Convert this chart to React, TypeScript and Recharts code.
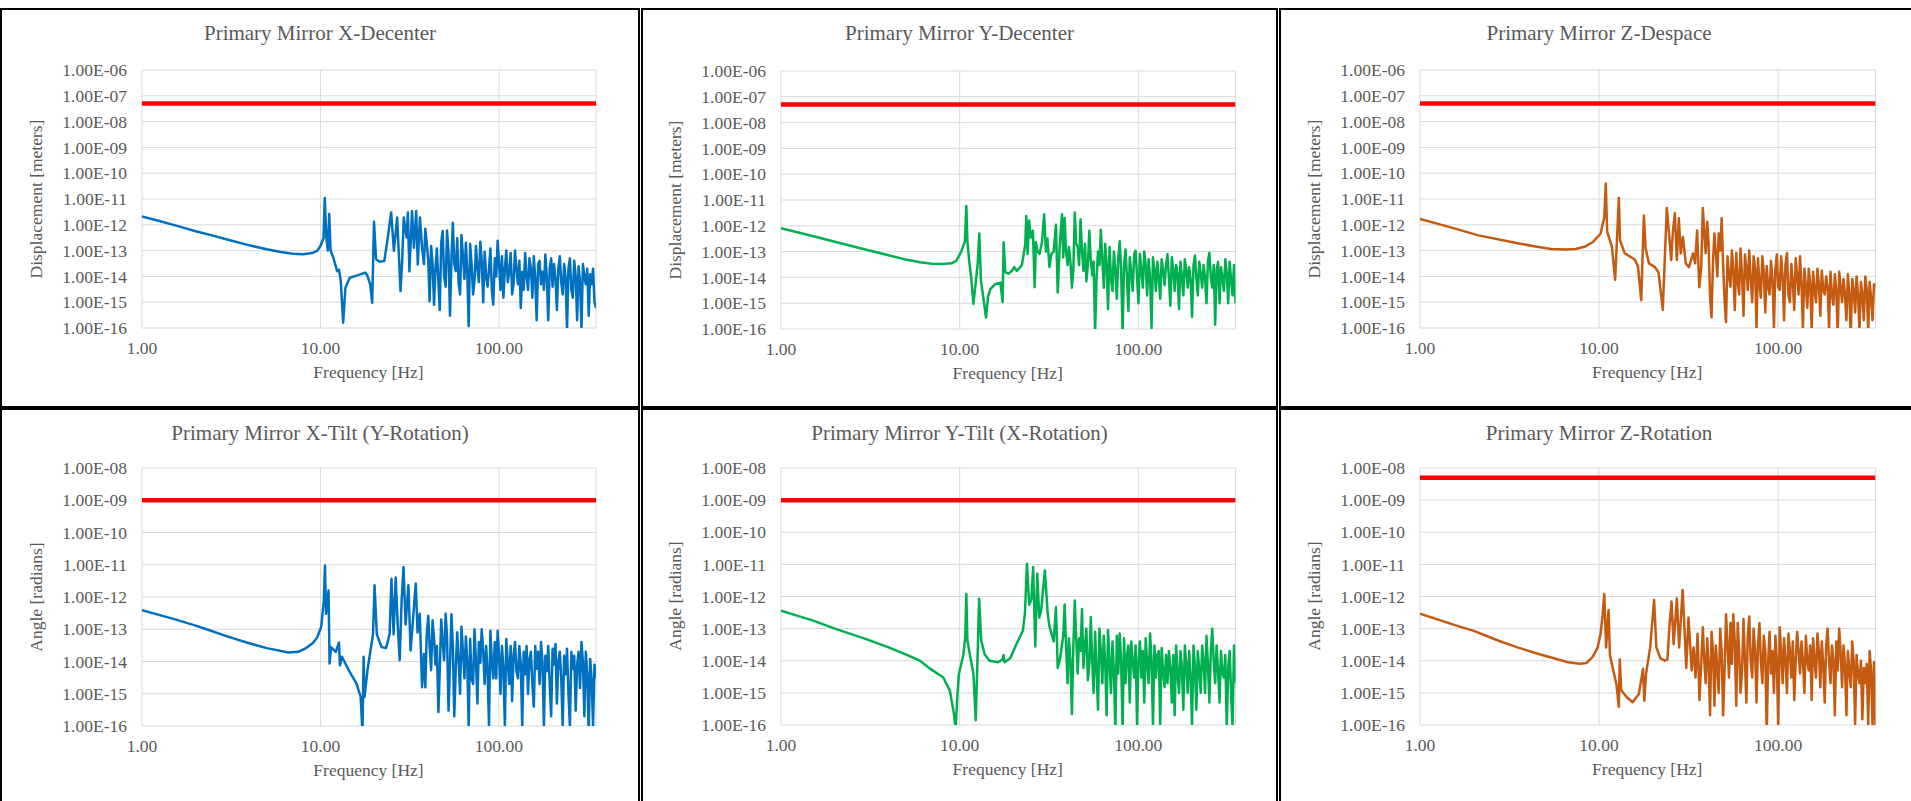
import React from "react";
import { LineChart, Line, XAxis, YAxis, CartesianGrid } from "recharts";

// axes
const FREQ_TICKS = [1, 10, 100];
const DISP_TICKS = [1e-16, 1e-15, 1e-14, 1e-13, 1e-12, 1e-11, 1e-10, 1e-9, 1e-8, 1e-7, 1e-6];
const ANGLE_TICKS = [1e-16, 1e-15, 1e-14, 1e-13, 1e-12, 1e-11, 1e-10, 1e-9, 1e-8];

// shared frequency grid of the noisy upper band (Hz)
const NOISE_F = [
  38, 38.7, 39.4, 40.2, 40.9, 41.7, 42.5, 43.3, 44.1, 44.9,
  45.8, 46.6, 47.5, 48.4, 49.3, 50.3, 51.2, 52.2, 53.2, 54.2,
  55.2, 56.2, 57.3, 58.4, 59.5, 60.6, 61.7, 62.9, 64.1, 65.3,
  66.5, 67.7, 69, 70.3, 71.7, 73, 74.4, 75.8, 77.2, 78.7,
  80.1, 81.7, 83.2, 84.8, 86.4, 88, 89.6, 91.3, 93, 94.8,
  96.6, 98.4, 100.2, 102.1, 104, 106, 108, 110, 112.1, 114.2,
  116.4, 118.6, 120.8, 123.1, 125.4, 127.8, 130.2, 132.6, 135.1, 137.6,
  140.3, 142.9, 145.6, 148.3, 151.1, 154, 156.9, 159.8, 162.8, 165.9,
  169, 172.2, 175.4, 178.7, 182.1, 185.5, 189, 192.6, 196.2, 199.9,
  203.7, 207.5, 211.3, 215.3, 219.4, 223.5, 227.7, 232, 236.3, 240.8,
  245.3, 249.9, 254.7, 259.4, 264.3, 269.3, 274.4, 279.5, 284.8, 290.2,
  295.6, 301.2, 306.9, 312.7, 318.6, 324.6, 330.7, 336.9, 343.3, 350,
];

// X-Decenter
const XDEC_F = [
  1, 1.25, 1.5, 2, 2.5, 3, 4, 5, 6, 7, 8, 9,
  9.6, 10, 10.4, 10.57, 10.8, 11, 11.2, 11.4, 11.8, 12.4,
  12.7, 13, 13.4, 13.8, 14.6, 16.1, 17.8, 18.3, 19, 19.5,
  19.95, 20.5, 21.5, 22.8, 23.7, 24.9, 25.8, 26.9, 28.1, 28.7,
  29.3, 30.4, 30.9, 31.5, 32.6, 33.4, 34.4, 35.1, 36.1, 37.1,
];
const XDEC_V = [
  2.1e-12, 1.4e-12, 9.9e-13, 5.6e-13, 3.8e-13, 2.7e-13, 1.6e-13, 1.12e-13, 8.8e-14, 7.6e-14, 7.2e-14, 8e-14,
  1e-13, 1.5e-13, 3e-13, 1.1e-11, 3e-13, 1e-13, 2.6e-12, 1e-13, 5.4e-14, 1.6e-14,
  1.8e-14, 6.6e-15, 1.6e-16, 3.6e-15, 8.9e-15, 1.1e-14, 1.4e-14, 1.1e-14, 4.9e-15, 9.5e-16,
  1.3e-12, 4.6e-14, 3.7e-14, 4e-14, 2.4e-13, 3e-12, 9.7e-14, 1.9e-12, 2.7e-15, 4e-14,
  1.9e-12, 3.2e-13, 3e-12, 1.6e-14, 3.4e-12, 1.3e-13, 3.4e-12, 2.9e-14, 1.9e-12, 1.3e-13,
];
const XDEC_NOISE = [
  3e-14, 7e-13, 2e-13, 4e-14, 1.1e-15, 1.5e-13, 3e-14, 8e-16, 2e-14, 1.2e-13,
  6e-15, 5e-16, 2e-13, 5.8e-13, 1e-14, 4e-15, 6e-13, 8e-14, 3e-16, 5e-14,
  1.2e-12, 3e-14, 1.6e-14, 3e-13, 5e-15, 2e-15, 4e-13, 6e-14, 8e-15, 2e-13,
  1.5e-14, 1.2e-16, 1.8e-13, 3e-14, 2e-15, 7e-15, 1.5e-13, 2e-14, 6e-15, 2.2e-13,
  4e-14, 1e-15, 9e-14, 1e-14, 4e-15, 2e-14, 1.2e-13, 3e-15, 8e-16, 5e-14,
  1e-14, 2.4e-13, 3e-14, 3e-15, 6e-14, 1.5e-15, 2e-14, 1e-13, 6e-15, 1.5e-14,
  8e-14, 2e-15, 5e-15, 1e-13, 2e-14, 5e-15, 4e-14, 6e-16, 1.5e-14, 3e-15,
  8e-14, 1e-14, 3e-15, 5e-14, 2e-14, 1.5e-15, 6e-14, 8e-15, 2e-16, 3e-14,
  4e-14, 5e-15, 1.5e-14, 3e-15, 7e-14, 1e-14, 2e-16, 2e-14, 5e-14, 4e-15,
  3e-14, 8e-15, 5e-16, 2e-14, 6e-14, 6e-15, 2e-15, 3e-14, 1e-14, 8e-17,
  2e-14, 5e-14, 3e-15, 1.5e-15, 4e-14, 1e-14, 2e-16, 2.5e-14, 6e-15, 1e-16,
  3e-14, 1e-14, 5e-15, 2e-14, 3e-16, 1.2e-14, 5e-15, 2e-14, 1e-15, 6e-16,
];

// Y-Decenter
const YDEC_F = [
  1, 1.5, 2, 3, 4, 5, 6, 7, 8, 9,
  9.6, 10.2, 10.7, 10.9, 11.05, 11.3, 11.6, 11.94, 12.6, 12.88,
  13.16, 14.05, 14.4, 14.85, 15.83, 16.9, 17.4, 17.63, 18, 18.8,
  19.6, 20.2, 20.9, 22.3, 23.3, 23.6, 24, 24.5, 25, 25.7,
  26.3, 26.7, 27.3, 28, 28.9, 29.7, 30.4, 31, 31.8, 32.6,
  33.6, 34.6, 35.4, 36.3, 37.4,
];
const YDEC_V = [
  8.1e-13, 4e-13, 2.4e-13, 1.18e-13, 7.2e-14, 4.9e-14, 3.9e-14, 3.4e-14, 3.3e-14, 3.5e-14,
  4.5e-14, 1e-13, 2.5e-13, 5.9e-12, 2.6e-13, 4.5e-14, 1e-14, 9.4e-16, 3e-14, 5e-13,
  7.5e-15, 2.8e-16, 1.7e-15, 3.5e-15, 5.5e-15, 6.3e-15, 1.1e-15, 2.3e-13, 1.6e-14, 1.4e-14,
  1.8e-14, 2.5e-14, 1.8e-14, 3e-14, 1.9e-13, 2.4e-12, 8e-14, 1.6e-12, 3.5e-13, 6.4e-13,
  4.2e-15, 2.3e-13, 1e-13, 8e-14, 2.3e-13, 2.8e-12, 1e-13, 3.2e-13, 2.5e-14, 8e-14,
  1e-13, 1.1e-12, 2.6e-15, 1.6e-13, 2.8e-12,
];
const YDEC_NOISE = [
  6e-14, 2e-12, 1e-13, 3e-14, 1.5e-13, 4e-14, 4e-15, 2e-14, 3.3e-12, 2e-13,
  1.5e-13, 3e-14, 1.8e-12, 1e-13, 1.8e-14, 2e-13, 7e-15, 3e-14, 6.4e-13, 5e-14,
  1.2e-14, 4e-14, 7e-17, 1e-14, 1e-13, 3e-14, 7e-13, 5e-14, 4e-15, 2e-13,
  3e-14, 6e-16, 1.5e-13, 1e-14, 3e-15, 1e-13, 2e-14, 1.5e-15, 5e-14, 2.5e-13,
  2e-14, 8e-17, 3e-14, 1.2e-13, 1e-14, 5e-16, 6e-14, 1.5e-14, 3e-15, 8e-14,
  1.1e-13, 1e-14, 1e-15, 8e-14, 2e-14, 4e-15, 1e-13, 3e-14, 2e-15, 5e-14,
  1e-14, 1e-16, 6e-14, 2e-14, 3e-15, 4e-14, 1e-14, 1.5e-15, 5e-14, 2e-14,
  5e-15, 3e-14, 8e-14, 1e-14, 8e-16, 6e-14, 2e-14, 3e-15, 3e-14, 1.5e-14,
  6e-16, 4e-14, 1e-14, 2e-15, 5e-14, 2e-14, 4e-15, 2.5e-14, 8e-15, 3e-16,
  3e-14, 7e-14, 1e-14, 2e-15, 4e-14, 1.5e-14, 4e-15, 3e-14, 1e-14, 1e-15,
  4e-14, 9e-14, 1e-14, 4e-15, 3e-14, 1.5e-16, 2e-14, 4e-14, 1e-15, 2.5e-14,
  1e-14, 3e-15, 5e-14, 1.5e-14, 1e-15, 4e-14, 8e-15, 2e-15, 3e-14, 1e-15,
];

// Z-Despace
const ZDES_F = [
  1, 1.5, 2.12, 3, 3.57, 4.5, 5.4, 6.5, 7.4, 8.3,
  9.2, 10.2, 10.7, 10.9, 11.1, 11.8, 12.3, 12.9, 13.1, 13.9,
  15.8, 16.5, 17.2, 17.8, 18.2, 19, 20.5, 21.5, 22.7, 23.9,
  24.6, 25.3, 25.8, 26.5, 27.2, 27.9, 28.6, 29.4, 30.5, 31.8,
  33.5, 34.4, 35.3, 36.3, 37.2,
];
const ZDES_V = [
  1.7e-12, 7.8e-13, 3.9e-13, 2.4e-13, 1.9e-13, 1.4e-13, 1.15e-13, 1.1e-13, 1.15e-13, 1.4e-13,
  2.1e-13, 4.5e-13, 2e-12, 4e-11, 5.5e-13, 1.4e-13, 7.3e-15, 1.1e-11, 2.5e-13, 8e-14,
  4.5e-14, 2.5e-14, 1.2e-15, 2.3e-12, 1.2e-13, 3.2e-14, 2.3e-14, 1.4e-14, 5e-16, 4.5e-12,
  4.6e-13, 4.3e-14, 4.6e-13, 2.8e-12, 4.3e-14, 1.8e-12, 7.8e-14, 3.4e-13, 3.2e-14, 2.3e-14,
  7.8e-14, 3.2e-14, 6e-13, 3.8e-15, 2.3e-14,
];
const ZDES_NOISE = [
  4.5e-12, 5e-13, 8e-14, 1.3e-12, 2e-13, 1.6e-15, 2.6e-16, 4e-14, 4.6e-13, 7.8e-14,
  1e-14, 4.6e-13, 1e-13, 1.8e-12, 3e-14, 1e-15, 1.7e-16, 6e-14, 1e-14, 4e-15,
  1e-13, 2e-14, 5e-16, 8e-14, 6e-15, 2e-15, 1.2e-13, 1e-14, 3e-16, 7e-14,
  2e-14, 3e-15, 1e-13, 8e-15, 1e-15, 6e-14, 2e-14, 1e-16, 5e-14, 5e-15,
  1.5e-15, 6e-14, 1.5e-14, 4e-16, 2.5e-14, 4e-15, 2e-15, 4e-14, 8e-15, 1e-16,
  2e-14, 7e-14, 4e-15, 3e-15, 6e-14, 1e-14, 2e-16, 3e-14, 8e-14, 2e-15,
  1e-15, 3e-14, 6e-15, 5e-16, 5e-14, 1e-14, 2e-15, 6e-14, 5e-15, 1e-16,
  2e-14, 4e-15, 6e-16, 2e-14, 6e-15, 8e-17, 1.5e-14, 3e-15, 1e-15, 2e-14,
  5e-15, 3e-16, 1.7e-14, 3e-15, 2e-15, 1e-14, 4e-15, 1e-16, 1.5e-14, 2e-15,
  8e-16, 1.2e-14, 3e-15, 6e-17, 1.5e-14, 4e-15, 1e-15, 8e-15, 2e-15, 2e-16,
  1.2e-14, 2e-15, 5e-17, 8e-15, 3e-15, 4e-16, 1e-14, 2e-15, 8e-17, 6e-15,
  2e-15, 2e-16, 1e-14, 3e-15, 8e-17, 6e-15, 1.5e-15, 2e-16, 5e-15, 4e-15,
];

// X-Tilt (Y-Rotation)
const XTILT_F = [
  1, 1.5, 2, 2.3, 3, 3.9, 5, 6.6, 7.5, 8.2,
  9.1, 9.6, 10.1, 10.45, 10.6, 10.75, 11.1, 11.25, 11.45, 12.2,
  12.7, 12.85, 13.2, 14.4, 15.9, 16.8, 17.2, 17.45, 17.65, 18.4,
  19.7, 20.1, 20.7, 22, 23.3, 24.4, 25, 25.7, 26.4, 27.1,
  27.8, 28.5, 29.2, 30, 31.1, 32, 33, 34.2, 35, 36, 37.1,
];
const XTILT_V = [
  3.9e-13, 2.1e-13, 1.3e-13, 1e-13, 6e-14, 3.8e-14, 2.6e-14, 1.9e-14, 2e-14, 2.5e-14,
  3.8e-14, 5.7e-14, 1.2e-13, 7.8e-13, 9.5e-12, 3e-13, 1.6e-12, 8.7e-15, 2.8e-14, 2e-14,
  3.9e-14, 7.6e-15, 1.4e-14, 5.4e-15, 2.1e-15, 8e-16, 6e-17, 1.4e-14, 8e-16, 6e-15,
  7e-14, 2.3e-12, 7e-14, 2.8e-14, 2.6e-14, 7e-14, 3.7e-12, 7e-14, 4e-12, 1.4e-13,
  1.1e-14, 7.8e-13, 8.5e-12, 1.4e-13, 2.3e-12, 2.2e-14, 2e-13, 2.6e-12, 8e-14, 3e-13, 1.6e-15,
];
const XTILT_NOISE = [
  1.7e-14, 1.6e-15, 7e-14, 2.6e-13, 3e-14, 5.4e-15, 1.9e-13, 5e-14, 8e-15, 3e-14,
  2.7e-16, 5e-15, 2e-13, 4e-14, 1.1e-14, 3e-13, 6e-14, 3e-16, 8e-15, 2.9e-13,
  3e-14, 2e-16, 6e-15, 8e-14, 1e-14, 1e-15, 1.2e-13, 2e-14, 3e-15, 6e-14,
  1e-14, 1e-16, 5e-14, 3e-15, 2e-15, 1e-13, 1e-14, 5e-16, 4e-14, 9e-15,
  1e-13, 2e-14, 2e-15, 3e-14, 5e-15, 1e-16, 9e-14, 1e-14, 3e-15, 4e-14,
  3e-15, 9e-14, 1.5e-14, 1e-15, 3e-14, 6e-15, 1e-16, 5e-14, 1e-14, 2e-15,
  3e-14, 6e-16, 1.5e-14, 4e-14, 5e-15, 3e-15, 3e-14, 8e-15, 1e-16, 2e-14,
  4e-15, 3e-14, 1e-15, 1.2e-14, 2e-14, 2e-15, 4e-16, 3e-14, 6e-15, 2e-14,
  2e-15, 4e-14, 1e-14, 1e-16, 1.5e-14, 5e-15, 3e-14, 2e-15, 2e-16, 2.5e-14,
  8e-15, 3.5e-14, 5e-16, 1e-14, 2e-14, 3e-15, 1e-16, 1.5e-14, 4e-15, 2.5e-14,
  1e-15, 1e-16, 2e-14, 6e-15, 1.5e-14, 3e-16, 8e-15, 2e-14, 1.5e-15, 4e-14,
  1e-14, 2e-16, 2e-14, 4e-15, 6e-17, 1.2e-14, 3e-15, 1e-16, 8e-15, 3e-15,
];

// Y-Tilt (X-Rotation)
const YTILT_F = [
  1, 1.5, 2, 3, 4, 5.1, 6, 6.7, 8.1, 8.8,
  9.3, 9.5, 9.7, 9.9, 10.5, 10.75, 10.9, 11.05, 11.4, 11.95,
  12.3, 12.5, 12.7, 12.85, 13.2, 13.8, 14.7, 16.4, 17.4, 17.6,
  17.8, 19.2, 20.8, 22.6, 23.2, 23.8, 24.5, 25.2, 25.8, 26.5,
  27.2, 27.9, 28.6, 30, 31.1, 31.8, 33.6, 34.6, 35.4, 36.5,
];
const YTILT_V = [
  3.6e-13, 1.8e-13, 1e-13, 4.7e-14, 2.6e-14, 1.5e-14, 1e-14, 6.1e-15, 3e-15, 1.2e-15,
  2.2e-16, 7e-17, 7.3e-16, 3.8e-15, 1.6e-14, 5.5e-14, 1.2e-12, 4.3e-14, 1.6e-14, 3.8e-15,
  1.4e-16, 3e-15, 6.8e-14, 8.5e-13, 4.3e-14, 1.6e-14, 1e-14, 9e-15, 1.1e-14, 1.5e-14,
  9e-15, 1.2e-14, 3.3e-14, 8.8e-14, 3e-13, 1.05e-11, 5.5e-13, 8e-13, 8.3e-12, 2.8e-14,
  5.1e-12, 2.2e-13, 3.7e-13, 6.5e-12, 3e-13, 1.2e-13, 4e-14, 4.6e-13, 6e-15, 1.2e-14,
];
const YTILT_NOISE = [
  6e-14, 5.6e-13, 3e-14, 2e-15, 5e-14, 1e-14, 2.2e-16, 3e-14, 7.5e-13, 5e-14,
  4e-15, 5e-14, 2e-14, 4.1e-13, 6e-15, 3e-14, 1e-13, 2.5e-15, 8e-15, 2.3e-13,
  1e-14, 1e-15, 8e-14, 5e-15, 3e-16, 1e-13, 2e-14, 2e-15, 6e-14, 8e-15,
  2e-16, 9e-14, 1e-14, 1e-15, 4e-14, 5e-15, 6e-17, 6e-14, 4e-15, 7e-14,
  1e-14, 8e-17, 5e-14, 2e-15, 1.5e-14, 3e-14, 5e-16, 4e-14, 1e-14, 3e-15,
  3e-14, 1e-16, 1e-14, 4e-14, 3e-15, 2e-14, 5e-16, 5e-14, 8e-15, 2e-15,
  7e-14, 1e-14, 1e-16, 3e-14, 3e-15, 1.5e-14, 2e-14, 1e-16, 2.5e-14, 5e-15,
  1.5e-15, 1.5e-14, 2e-15, 2e-14, 6e-15, 5e-16, 1.5e-14, 2e-16, 3e-14, 4e-15,
  1e-15, 2e-14, 6e-15, 3e-16, 3e-14, 8e-15, 1e-15, 2e-14, 3e-15, 1e-16,
  3e-14, 6e-15, 3e-16, 2e-14, 5e-15, 1e-15, 3e-14, 1e-14, 1e-15, 6e-14,
  8e-15, 5e-16, 2e-14, 1e-13, 1e-14, 2e-15, 3e-14, 5e-15, 5e-16, 2e-14,
  4e-15, 3e-15, 1.5e-14, 8e-17, 6e-15, 2e-14, 1e-15, 8e-17, 3e-14, 2e-15,
];

// Z-Rotation
const ZROT_F = [
  1, 1.63, 2, 2.75, 3.5, 4.65, 5.6, 6.7, 7.8, 8.5,
  9.2, 9.8, 10.2, 10.45, 10.7, 10.95, 11.3, 11.5, 11.9, 12.5,
  12.9, 13.05, 13.3, 14.3, 15.4, 16.7, 17.6, 17.9, 18.3, 19.3,
  20.3, 20.9, 22, 23.3, 24.1, 24.7, 25.4, 26.1, 27.2, 28,
  28.9, 29.3, 30.1, 30.7, 31.6, 32.9, 33.7, 34.6, 35.5, 36.4,
];
const ZROT_V = [
  2.9e-13, 1.2e-13, 8.5e-14, 4.2e-14, 2.6e-14, 1.6e-14, 1.2e-14, 9e-15, 8e-15, 8.5e-15,
  1.3e-14, 2.5e-14, 6.9e-14, 2.3e-13, 1.2e-12, 2.6e-14, 3.8e-13, 1.5e-14, 6.3e-15, 1.9e-15,
  3.7e-16, 1.1e-14, 1.2e-15, 7.3e-16, 5.1e-16, 9.3e-16, 5.6e-15, 5.7e-16, 3.9e-15, 2.6e-14,
  7.8e-13, 2.6e-14, 1.2e-14, 1e-14, 1.1e-14, 1.1e-13, 7e-13, 3.3e-14, 8.6e-13, 2.6e-14,
  4.5e-13, 1.6e-12, 6.9e-14, 6e-15, 2.2e-13, 5e-15, 2.6e-14, 3e-15, 6.9e-14, 6e-16,
];
const ZROT_NOISE = [
  1.1e-13, 1e-14, 2e-15, 5e-14, 8e-15, 2e-16, 8e-14, 2e-14, 4e-16, 3e-14,
  5e-15, 1e-15, 1e-13, 2e-14, 2e-16, 6e-15, 2.8e-13, 3e-14, 3e-15, 1.5e-13,
  8e-15, 2.8e-13, 4e-14, 4e-16, 1.5e-13, 2e-14, 1e-15, 5e-15, 2e-13, 1e-14,
  5e-16, 6e-14, 2.4e-13, 1e-14, 3e-15, 1e-13, 2e-14, 5e-16, 3e-14, 1.5e-13,
  1e-14, 2e-15, 6e-14, 2e-14, 5e-17, 1e-14, 8e-14, 4e-15, 2e-14, 1e-15,
  6e-14, 1e-14, 8e-17, 1.1e-13, 2e-14, 2e-15, 5e-14, 1e-14, 1e-15, 7e-14,
  2e-14, 3e-15, 4e-14, 6e-16, 1e-14, 8e-14, 2e-14, 4e-15, 4e-14, 1e-14,
  1e-15, 6e-14, 1e-14, 5e-15, 3e-14, 6e-16, 5e-14, 1e-14, 3e-15, 7e-14,
  2e-14, 1.5e-15, 4e-14, 8e-15, 5e-16, 3e-14, 1e-13, 1e-14, 2e-15, 3e-14,
  1e-14, 2e-16, 4e-14, 5e-15, 1e-13, 2e-14, 1.5e-15, 3e-14, 8e-15, 2e-16,
  2e-14, 5e-15, 1.5e-15, 4e-14, 1e-14, 1e-16, 1.5e-14, 4e-15, 2e-15, 1e-14,
  1.5e-16, 6e-15, 2e-15, 8e-15, 1e-16, 2e-14, 5e-15, 1e-16, 9e-15, 8e-17,
];

// requirement lines
const DISP_LIMIT = 5e-8;
const TILT_LIMIT = 1e-9;
const ZROT_LIMIT = 5e-9;

const BLUE = "#0070C0";
const GREEN = "#00B050";
const ORANGE = "#C55A11";
const RED = "#FF0000";
const TEXT = "#595959";
const FONT = "'Liberation Serif', 'Times New Roman', serif";

function series(f: number[], v: number[], noise: number[]) {
  const pts = f.map((x, i) => ({ f: x, v: v[i] }));
  NOISE_F.forEach((x, i) => {
    if (noise[i] !== undefined) pts.push({ f: x, v: noise[i] });
  });
  return pts;
}

const sci = (v: number) => {
  const e = Math.round(Math.log10(v));
  return `1.00E${e < 0 ? "-" : "+"}${String(Math.abs(e)).padStart(2, "0")}`;
};

type PanelProps = {
  box: number[];
  plot: number[];
  title: string;
  yTitle: string;
  ticks: number[];
  data: { f: number; v: number }[];
  color: string;
  limit: number;
};

const ML = 100;
const MT = 20;
const MR = 20;
const XH = 40;

function Panel({ box, plot, title, yTitle, ticks, data, color, limit }: PanelProps) {
  const [bx, by, bw, bh] = box;
  const [px, py, pw, ph] = plot;
  const limitData = [
    { f: 1, v: limit },
    { f: 350, v: limit },
  ];
  const tickStyle = { fill: TEXT, fontSize: 17.5, fontFamily: FONT };
  return (
    <>
      <div
        style={{
          position: "absolute",
          left: bx,
          top: by,
          width: bw,
          height: bh,
          border: "2px solid #000",
          boxSizing: "border-box",
        }}
      />
      <div
        style={{
          position: "absolute",
          left: bx + bw / 2 - 300,
          top: by + 25 - 13,
          width: 600,
          height: 26,
          lineHeight: "26px",
          textAlign: "center",
          fontFamily: FONT,
          fontSize: 21,
          color: TEXT,
          whiteSpace: "nowrap",
        }}
      >
        {title}
      </div>
      <div
        style={{
          position: "absolute",
          left: px - 106 - 150,
          top: py + ph / 2 - 11,
          width: 300,
          height: 22,
          lineHeight: "22px",
          textAlign: "center",
          fontFamily: FONT,
          fontSize: 17.5,
          color: TEXT,
          transform: "rotate(-90deg)",
          whiteSpace: "nowrap",
        }}
      >
        {yTitle}
      </div>
      <div
        style={{
          position: "absolute",
          left: px + pw / 2 - 150,
          top: py + ph + 44 - 11,
          width: 300,
          height: 22,
          lineHeight: "22px",
          textAlign: "center",
          fontFamily: FONT,
          fontSize: 17.5,
          color: TEXT,
          whiteSpace: "nowrap",
        }}
      >
        Frequency [Hz]
      </div>
      <div style={{ position: "absolute", left: px - ML, top: py - MT }}>
        <LineChart
          width={pw + ML + MR}
          height={ph + MT + XH}
          margin={{ top: MT, right: MR, bottom: 0, left: 0 }}
        >
          <CartesianGrid stroke="#d9d9d9" strokeWidth={1} />
          <XAxis
            dataKey="f"
            type="number"
            scale="log"
            domain={[1, 350]}
            ticks={FREQ_TICKS}
            interval={0}
            allowDataOverflow
            tickFormatter={(v: number) => v.toFixed(2)}
            height={XH}
            axisLine={false}
            tickLine={false}
            tickSize={0}
            tickMargin={14}
            tick={tickStyle}
          />
          <YAxis
            type="number"
            scale="log"
            domain={[ticks[0], ticks[ticks.length - 1]]}
            ticks={ticks}
            interval={0}
            allowDataOverflow
            tickFormatter={sci}
            width={ML}
            axisLine={false}
            tickLine={false}
            tickSize={0}
            tickMargin={15}
            tick={tickStyle}
          />
          <Line
            data={data}
            dataKey="v"
            type="linear"
            stroke={color}
            strokeWidth={2.5}
            strokeLinejoin="round"
            dot={false}
            activeDot={false}
            isAnimationActive={false}
          />
          <Line
            data={limitData}
            dataKey="v"
            type="linear"
            stroke={RED}
            strokeWidth={4.5}
            dot={false}
            activeDot={false}
            isAnimationActive={false}
          />
        </LineChart>
      </div>
    </>
  );
}

const PANELS: PanelProps[] = [
  {
    box: [0, 8, 640, 400],
    plot: [141.5, 69.5, 454, 258],
    title: "Primary Mirror X-Decenter",
    yTitle: "Displacement [meters]",
    ticks: DISP_TICKS,
    data: series(XDEC_F, XDEC_V, XDEC_NOISE),
    color: BLUE,
    limit: DISP_LIMIT,
  },
  {
    box: [641, 8, 637, 400],
    plot: [780.5, 70.5, 454.5, 258],
    title: "Primary Mirror Y-Decenter",
    yTitle: "Displacement [meters]",
    ticks: DISP_TICKS,
    data: series(YDEC_F, YDEC_V, YDEC_NOISE),
    color: GREEN,
    limit: DISP_LIMIT,
  },
  {
    box: [1279, 8, 640, 400],
    plot: [1419.5, 69.5, 455.5, 258],
    title: "Primary Mirror Z-Despace",
    yTitle: "Displacement [meters]",
    ticks: DISP_TICKS,
    data: series(ZDES_F, ZDES_V, ZDES_NOISE),
    color: ORANGE,
    limit: DISP_LIMIT,
  },
  {
    box: [0, 408, 640, 400],
    plot: [141.5, 467.5, 454, 258],
    title: "Primary Mirror X-Tilt (Y-Rotation)",
    yTitle: "Angle [radians]",
    ticks: ANGLE_TICKS,
    data: series(XTILT_F, XTILT_V, XTILT_NOISE),
    color: BLUE,
    limit: TILT_LIMIT,
  },
  {
    box: [641, 408, 637, 400],
    plot: [780.5, 467.5, 454.5, 257],
    title: "Primary Mirror Y-Tilt (X-Rotation)",
    yTitle: "Angle [radians]",
    ticks: ANGLE_TICKS,
    data: series(YTILT_F, YTILT_V, YTILT_NOISE),
    color: GREEN,
    limit: TILT_LIMIT,
  },
  {
    box: [1279, 408, 640, 400],
    plot: [1419.5, 467.5, 455.5, 257],
    title: "Primary Mirror Z-Rotation",
    yTitle: "Angle [radians]",
    ticks: ANGLE_TICKS,
    data: series(ZROT_F, ZROT_V, ZROT_NOISE),
    color: ORANGE,
    limit: ZROT_LIMIT,
  },
];

export default function App() {
  return (
    <div
      style={{
        position: "absolute",
        left: 0,
        top: 0,
        width: 1911,
        height: 801,
        overflow: "hidden",
        background: "#fff",
      }}
    >
      {PANELS.map((p) => (
        <Panel key={p.title} {...p} />
      ))}
    </div>
  );
}
